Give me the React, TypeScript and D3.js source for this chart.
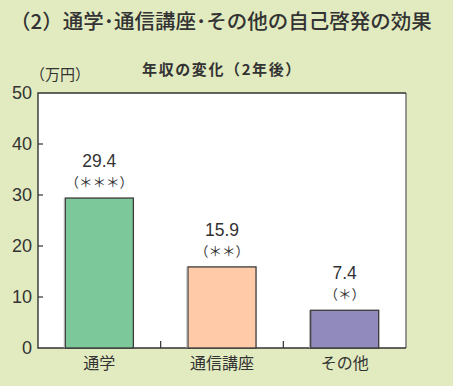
import React, { useEffect, useRef } from "react";
import * as d3 from "d3";

const categories = ["通学", "通信講座", "その他"];
const values = [29.4, 15.9, 7.4];
const significance = ["（＊＊＊）", "（＊＊）", "（＊）"];
const barColors = ["#7cc89b", "#ffcaa7", "#918abd"];
const yTicks = [0, 10, 20, 30, 40, 50];

const W = 453, H = 386;
const M = { left: 38, right: 406, top: 93, bottom: 348 };
const JP = "'Noto Sans CJK JP', 'Noto Sans', sans-serif";
const NUM = "'Liberation Sans', Arial, sans-serif";

export default function App() {
  const ref = useRef<SVGSVGElement>(null);
  useEffect(() => {
    const svg = d3.select(ref.current);
    svg.selectAll("*").remove();
    svg.append("rect").attr("width", W).attr("height", H).attr("fill", "#e2ebc0");

    const x = d3.scaleBand<string>().domain(categories).range([M.left, M.right]).paddingInner(0.445).paddingOuter(0.2225);
    const y = d3.scaleLinear().domain([0, 50]).range([M.bottom, M.top]);

    // title
    svg.append("text").attr("x", 10).attr("y", 29).attr("font-family", JP).attr("font-weight", 500)
      .attr("font-size", 20.5).attr("fill", "#333")
      .text("（2）通学･通信講座･その他の自己啓発の効果");
    svg.append("text").attr("x", 222).attr("y", 75).attr("text-anchor", "middle").attr("font-family", JP)
      .attr("font-weight", 700).attr("font-size", 15).attr("letter-spacing", 1.6).attr("fill", "#333").text("年収の変化（2年後）");
    svg.append("text").attr("x", 30).attr("y", 80).attr("font-family", JP)
      .attr("font-size", 15).attr("fill", "#333").text("（万円）");

    // plot area
    svg.append("rect").attr("x", M.left).attr("y", M.top).attr("width", M.right - M.left)
      .attr("height", M.bottom - M.top).attr("fill", "#fff");
    svg.append("line").attr("x1", M.right).attr("x2", M.right).attr("y1", M.top).attr("y2", M.bottom)
      .attr("stroke", "#777").attr("stroke-width", 1.5);
    svg.append("path").attr("d", `M${M.right},${M.top}H${M.left}V${M.bottom}H${M.right}`)
      .attr("fill", "none").attr("stroke", "#333").attr("stroke-width", 1.4);

    // y ticks
    const yg = svg.append("g");
    yTicks.forEach((t) => {
      if (t > 0 && t < 50) {
        yg.append("line").attr("x1", M.left).attr("x2", M.left + 5).attr("y1", y(t)).attr("y2", y(t))
          .attr("stroke", "#333").attr("stroke-width", 1.2);
      }
      yg.append("text").attr("x", 32).attr("y", y(t)).attr("dy", "0.36em").attr("text-anchor", "end")
        .attr("font-family", NUM).attr("font-size", 18).attr("fill", "#333").text(String(t));
    });

    // category separators
    categories.slice(1).forEach((c) => {
      const xx = (x(c) as number) - (x.step() * x.paddingInner()) / 2;
      svg.append("line").attr("x1", xx).attr("x2", xx).attr("y1", M.bottom).attr("y2", M.bottom - 7)
        .attr("stroke", "#333").attr("stroke-width", 1.2);
    });

    // bars
    categories.forEach((c, i) => {
      const bx = x(c) as number;
      const bw = x.bandwidth();
      svg.append("rect").attr("x", bx).attr("y", y(values[i])).attr("width", bw)
        .attr("height", y(0) - y(values[i])).attr("fill", barColors[i])
        .attr("stroke", "#3a3a3a").attr("stroke-width", 1.3);
      svg.append("line").attr("x1", bx - 1).attr("x2", bx - 1).attr("y1", y(values[i])).attr("y2", M.bottom)
        .attr("stroke", "#aaa").attr("stroke-width", 1);
      const cx = bx + bw / 2;
      svg.append("text").attr("x", cx).attr("y", y(values[i]) - 31).attr("text-anchor", "middle")
        .attr("font-family", NUM).attr("font-size", 17.5).attr("fill", "#333").text(values[i].toFixed(1));
      svg.append("text").attr("x", cx).attr("y", y(values[i]) - 11).attr("text-anchor", "middle")
        .attr("font-family", JP).attr("font-size", 13.5).attr("fill", "#333").text(significance[i]);
      svg.append("text").attr("x", cx).attr("y", 369).attr("text-anchor", "middle")
        .attr("font-family", JP).attr("font-size", 16).attr("fill", "#333").text(c);
    });
  }, []);
  return (
    <svg ref={ref} width={W} height={H} style={{ position: "absolute", left: 0, top: 0 }} />
  );
}
